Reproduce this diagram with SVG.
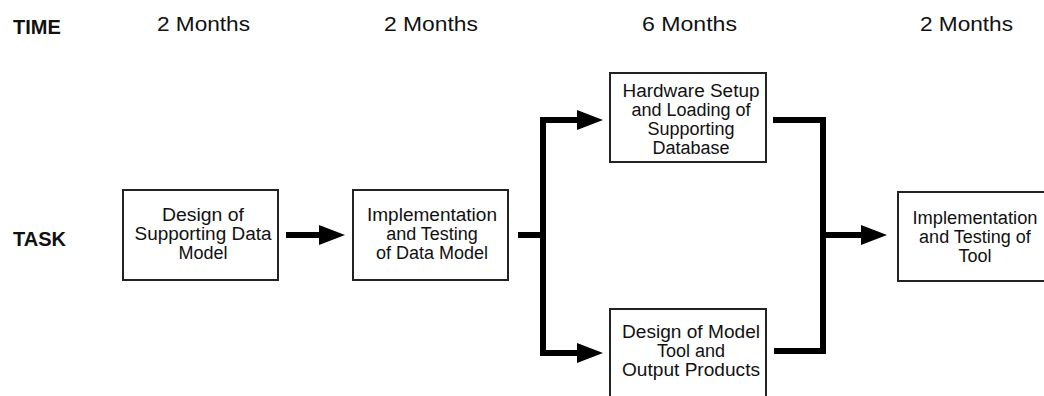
<svg xmlns="http://www.w3.org/2000/svg" width="1044" height="396" viewBox="0 0 1044 396">
<style>
.hdr{font-family:"Liberation Sans",Arial,Helvetica,sans-serif;font-size:20px;fill:#111;}
.lbl{font-family:"Liberation Sans",Arial,Helvetica,sans-serif;font-weight:bold;font-size:20px;fill:#111;}
.box{fill:#fff;stroke:#222;stroke-width:2;}
.txt{font-family:"Liberation Sans",Arial,Helvetica,sans-serif;font-size:18px;fill:#111;text-anchor:middle;}
.con{fill:none;stroke:#000;stroke-width:6;stroke-linejoin:miter;stroke-linecap:butt;}
</style>
<defs>
<marker id="ah" markerUnits="userSpaceOnUse" markerWidth="26" markerHeight="20" viewBox="0 0 26 20" refX="1" refY="10" orient="auto">
<path d="M0,0 L26,10 L0,20 z" fill="#000"/>
</marker>
</defs>
<rect width="1044" height="396" fill="#fff"/>
<g id="headers">
<text class="lbl" x="13" y="34">TIME</text>
<text class="lbl" x="13" y="246">TASK</text>
<text class="hdr" x="157" y="31" textLength="93" lengthAdjust="spacingAndGlyphs">2 Months</text>
<text class="hdr" x="384" y="31" textLength="94" lengthAdjust="spacingAndGlyphs">2 Months</text>
<text class="hdr" x="642" y="31" textLength="95" lengthAdjust="spacingAndGlyphs">6 Months</text>
<text class="hdr" x="920" y="31" textLength="93" lengthAdjust="spacingAndGlyphs">2 Months</text>
</g>
<g id="connectors">
<path class="con" d="M286,235 H320" marker-end="url(#ah)"/>
<path class="con" d="M518,235 H543"/>
<path class="con" d="M543,355 V120 H578" marker-end="url(#ah)"/>
<path class="con" d="M543,235 V353 H578" marker-end="url(#ah)"/>
<path class="con" d="M773,120 H823 V351 H774"/>
<path class="con" d="M823,235 H862" marker-end="url(#ah)"/>
</g>
<g id="node-design-data-model">
<rect class="box" x="123" y="190" width="155" height="90"/>
<text class="txt" x="203" y="220.5" textLength="82" lengthAdjust="spacingAndGlyphs">Design of</text>
<text class="txt" x="203" y="239.5" textLength="137" lengthAdjust="spacingAndGlyphs">Supporting Data</text>
<text class="txt" x="203" y="258.5">Model</text>
</g>
<g id="node-impl-data-model">
<rect class="box" x="353" y="190" width="155" height="90"/>
<text class="txt" x="432" y="220.5" textLength="130" lengthAdjust="spacingAndGlyphs">Implementation</text>
<text class="txt" x="432" y="239.5">and Testing</text>
<text class="txt" x="432" y="258.5">of Data Model</text>
</g>
<g id="node-hardware">
<rect class="box" x="610" y="73" width="156" height="89"/>
<text class="txt" x="691" y="97" textLength="137" lengthAdjust="spacingAndGlyphs">Hardware Setup</text>
<text class="txt" x="691" y="116">and Loading of</text>
<text class="txt" x="691" y="135">Supporting</text>
<text class="txt" x="691" y="153.5">Database</text>
</g>
<g id="node-design-tool">
<rect class="box" x="610" y="309" width="156" height="95"/>
<text class="txt" x="691" y="338" textLength="138" lengthAdjust="spacingAndGlyphs">Design of Model</text>
<text class="txt" x="691" y="357">Tool and</text>
<text class="txt" x="691" y="376" textLength="138" lengthAdjust="spacingAndGlyphs">Output Products</text>
</g>
<g id="node-impl-tool">
<rect class="box" x="898" y="192" width="155" height="89"/>
<text class="txt" x="975" y="224" textLength="125" lengthAdjust="spacingAndGlyphs">Implementation</text>
<text class="txt" x="975" y="243">and Testing of</text>
<text class="txt" x="975" y="262">Tool</text>
</g>
</svg>
